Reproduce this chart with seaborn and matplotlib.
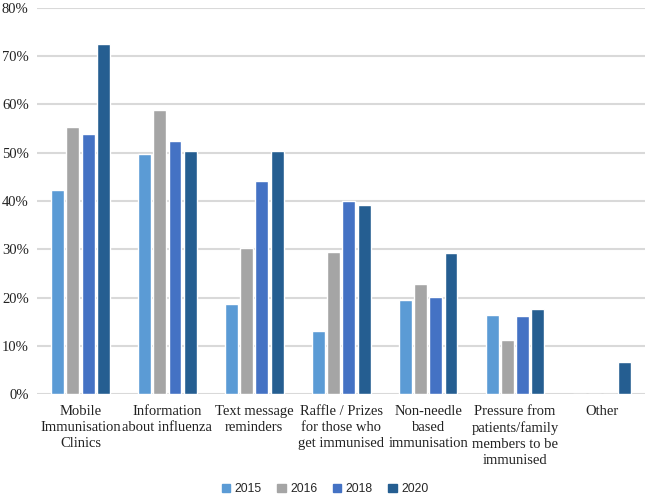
import numpy as np
import pandas as pd
import seaborn as sns
import matplotlib.pyplot as plt
from matplotlib.ticker import PercentFormatter

categories = [
    "Mobile\nImmunisation\nClinics",
    "Information\nabout influenza",
    "Text message\nreminders",
    "Raffle / Prizes\nfor those who\nget immunised",
    "Non-needle\nbased\nimmunisation",
    "Pressure from\npatients/family\nmembers to be\nimmunised",
    "Other",
]
years = ["2015", "2016", "2018", "2020"]
v2015 = [42.3, 49.7, 18.7, 13.1, 19.5, 16.3, 0.0]
v2016 = [55.3, 58.9, 30.2, 29.5, 22.9, 11.1, 0.0]
v2018 = [53.9, 52.4, 44.1, 39.9, 20.1, 16.2, 0.0]
v2020 = [72.5, 50.3, 50.3, 39.1, 29.3, 17.6, 6.7]
colors = ["#5B9BD5", "#A5A5A5", "#4472C4", "#255E91"]

rows = []
for yr, vals in zip(years, [v2015, v2016, v2018, v2020]):
    for c, v in zip(categories, vals):
        rows.append({"category": c, "year": yr, "value": v})
df = pd.DataFrame(rows)

sns.set_style("white")
plt.rcParams['font.family'] = ['Liberation Serif', 'DejaVu Serif']

fig, ax = plt.subplots(figsize=(6.5, 4.96), dpi=100)
fig.subplots_adjust(left=0.057, right=0.993, top=0.984, bottom=0.2056)

sns.barplot(data=df, x="category", y="value", hue="year", hue_order=years,
            palette=colors, width=0.7, gap=0.15, saturation=1, ax=ax, legend=False)

ax.set_ylim(0, 80)
ax.set_xlim(-0.5, 6.5)
ax.set_yticks(np.arange(0, 81, 10))
ax.yaxis.set_major_formatter(PercentFormatter(decimals=0))
ax.yaxis.grid(True, color="#D9D9D9", linewidth=1.5)
ax.set_axisbelow(True)
for s in ax.spines.values():
    s.set_visible(False)
ax.tick_params(axis="both", length=0, labelsize=10.5, colors="#222222")
ax.tick_params(axis="y", pad=6)
ax.tick_params(axis="x", pad=8)
for lbl in ax.get_xticklabels():
    lbl.set_linespacing(1.3)
ax.set_xlabel("")
ax.set_ylabel("")

handles = [plt.Rectangle((0, 0), 1, 1, color=c) for c in colors]
fig.legend(handles, years, loc="center", bbox_to_anchor=(0.5, 1 - 489 / 496), ncol=4,
           frameon=False, handlelength=0.7, handleheight=0.7, handletextpad=0.35,
           columnspacing=1.3, prop={"family": "Liberation Sans", "size": 8.7})

plt.savefig("out.png", dpi=100)
